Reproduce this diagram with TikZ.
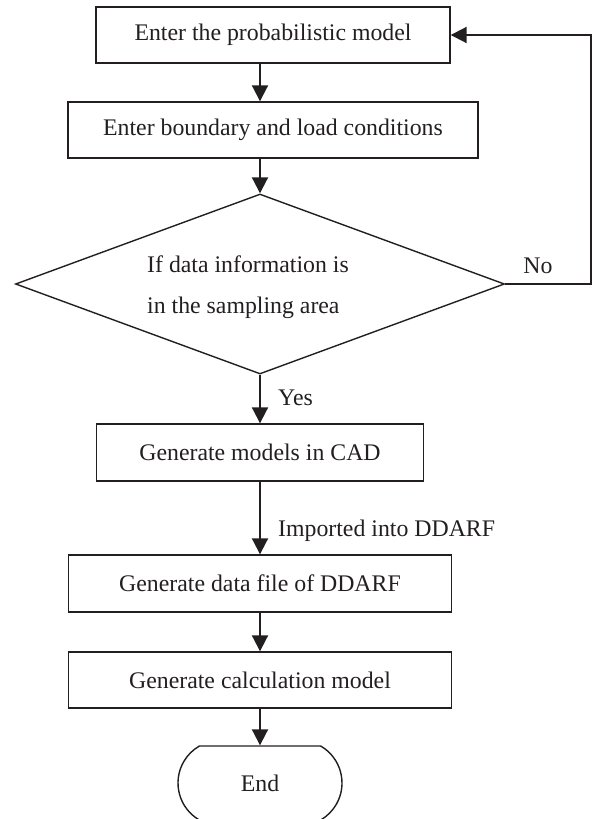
\documentclass[tikz,border=0pt]{standalone}
\usepackage{fontspec}
\setmainfont{Liberation Serif}
\usetikzlibrary{shapes.geometric,shapes.misc,arrows.meta}
\definecolor{ink}{HTML}{231F20}
\begin{document}
\begin{tikzpicture}[x=1pt,y=-1pt,
  every node/.style={font=\fontsize{23.8}{41}\selectfont, text=ink},
  procbox/.style={draw=ink, line width=1.4pt, rectangle, inner sep=0pt, minimum height=56pt},
  decision/.style={draw=ink, line width=1.4pt, diamond, inner sep=0pt, minimum width=489pt, minimum height=180pt},
  terminal/.style={draw=ink, line width=1.4pt, rounded rectangle, rounded rectangle arc length=120, inner sep=0pt, minimum width=164pt, minimum height=74pt},
  flow/.style={draw=ink, line width=2pt, -{Triangle[length=16pt,width=16pt]}},
  lbl/.style={inner sep=0pt}
]
\useasboundingbox (0,0) rectangle (593,819);

\node[procbox, minimum width=354pt] (b1) at (273,35) {Enter the probabilistic model};
\node[procbox, minimum width=410pt] (b2) at (273,130) {Enter boundary and load conditions};
\node[decision] (d) at (260,284) {};
\node[lbl, align=left] (dt) at (248,287) {If data information is\\in the sampling area};
\node[procbox, minimum width=327pt, minimum height=57pt] (b3) at (260,452.5) {Generate models in CAD};
\node[procbox, minimum width=383pt, minimum height=57pt] (b4) at (260,583.5) {Generate data file of DDARF};
\node[procbox, minimum width=383pt] (b5) at (260,680) {Generate calculation model};
\node[terminal] (e) at (260,783) {End};

\coordinate (c1) at (260,63);
\coordinate (c2) at (260,158);
\coordinate (c4) at (260,481);
\coordinate (c5) at (260,612);
\coordinate (c6) at (260,708);
\coordinate (r1) at (591,284);
\coordinate (r2) at (591,35);

\draw[flow] (c1) -- (c1 |- b2.north);
\draw[flow] (c2) -- (d.north);
\draw[flow] (d.south) -- (b3.north);
\draw[flow] (c4) -- (c4 |- b4.north);
\draw[flow] (c5) -- (c5 |- b5.north);
\draw[flow] (c6) -- (e.north);
\draw[flow] (d.east) -- (r1) -- (r2) -- (b1.east);

\node[lbl, anchor=west] (yes) at (278,398) {Yes};
\node[lbl, anchor=west] (imp) at (278,531) {Imported into DDARF};
\node[lbl] (no) at (538,266) {No};
\end{tikzpicture}
\end{document}
